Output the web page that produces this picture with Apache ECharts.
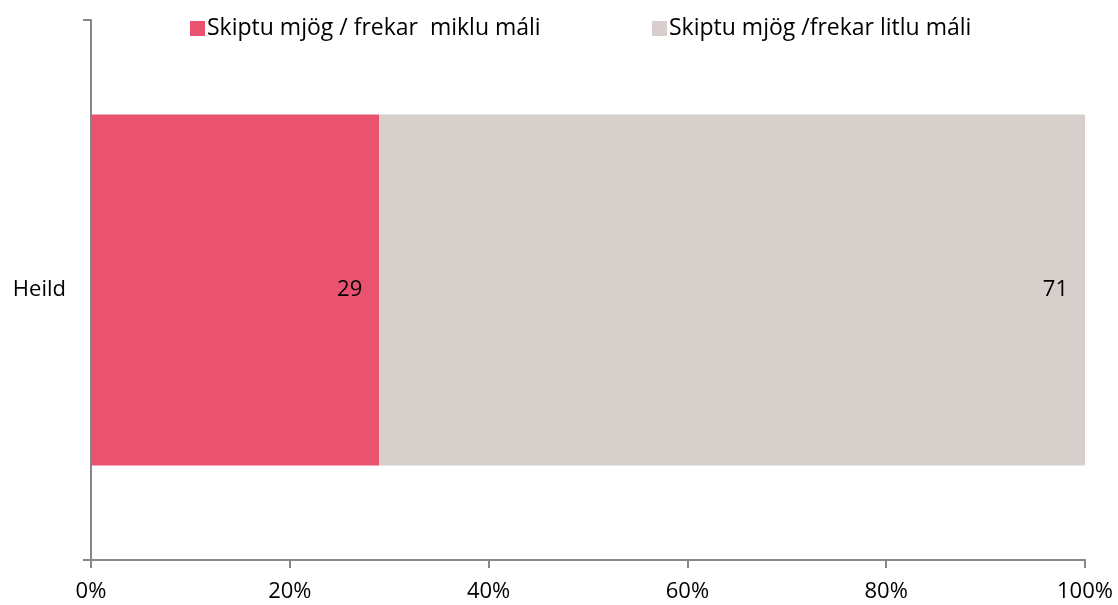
<!DOCTYPE html>
<html>
<head>
<meta charset="utf-8">
<script src="https://cdn.jsdelivr.net/npm/echarts@6/dist/echarts.min.js"></script>
<style>
  html, body { margin: 0; padding: 0; background: #fff; }
  #chart { width: 1118px; height: 605px; }
</style>
</head>
<body>
<div id="chart"></div>
<script>
const categories = ['Heild'];
const seriesNames = ['Skiptu mjög / frekar  miklu máli', 'Skiptu mjög /frekar litlu máli'];
const bigValues = [29];
const smallValues = [71];
const colors = ['#E9536F', '#D7CFCC'];

const font = '"Open Sans", sans-serif';
const axisGray = '#868686';

chart = echarts.init(document.getElementById('chart'));

function legendAt(name, left) {
    return {
        left: left,
        top: 12,
        itemWidth: 15,
        itemHeight: 15,
        icon: 'rect',
        textStyle: { fontSize: 23, color: '#000', fontFamily: font, padding: [0, 0, 0, -3] },
        data: [name]
    };
}

option = {
    animation: false,
    textStyle: { fontFamily: font },
    legend: [legendAt(seriesNames[0], 185), legendAt(seriesNames[1], 647)],
    grid: { left: 91, right: 33, top: 20, bottom: 45, containLabel: false },
    xAxis: {
        type: 'value',
        min: 0,
        max: 100,
        interval: 20,
        axisLine: { show: true, lineStyle: { color: axisGray, width: 2 } },
        axisTick: { show: true, length: 8, lineStyle: { color: axisGray, width: 2 } },
        splitLine: { show: false },
        axisLabel: { formatter: '{value}%', fontSize: 22, color: '#000', margin: 21, fontFamily: font }
    },
    yAxis: {
        type: 'category',
        data: categories,
        axisLine: { show: true, lineStyle: { color: axisGray, width: 2 } },
        axisTick: { show: true, length: 8, lineStyle: { color: axisGray, width: 2 } },
        axisLabel: { fontSize: 22, color: '#000', margin: 25, fontFamily: font }
    },
    series: [
        {
            name: seriesNames[0],
            type: 'bar',
            stack: 'total',
            barCategoryGap: '35%',
            data: bigValues,
            itemStyle: { color: colors[0] },
            label: { show: true, position: 'insideRight', distance: 17, fontSize: 22, color: '#000', fontFamily: font }
        },
        {
            name: seriesNames[1],
            type: 'bar',
            stack: 'total',
            barCategoryGap: '35%',
            data: smallValues,
            itemStyle: { color: colors[1] },
            label: { show: true, position: 'insideRight', distance: 17, fontSize: 22, color: '#000', fontFamily: font }
        }
    ]
};

chart.setOption(option);
</script>
</body>
</html>
